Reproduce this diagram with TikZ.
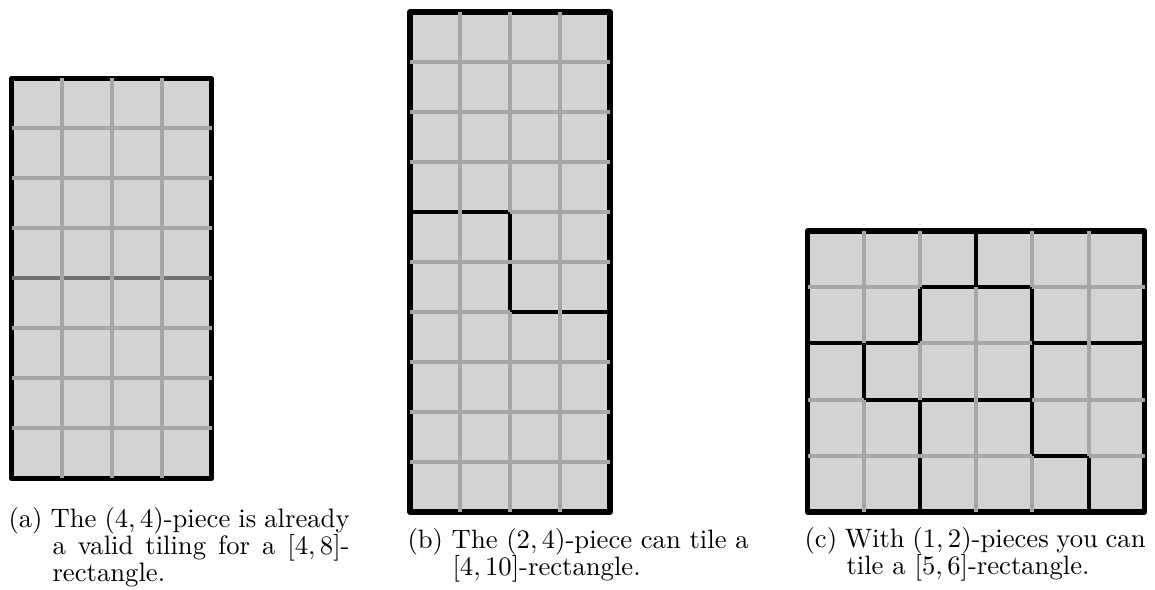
\documentclass[tikz,border=0pt]{standalone}
\definecolor{cellfill}{RGB}{211,211,211}
\definecolor{gridgray}{RGB}{166,166,166}
\definecolor{seamgray}{RGB}{112,112,112}
\tikzset{
  board/.style={fill=cellfill},
  frame/.style={draw=black, line width=1.9pt, line join=round},
  cut/.style={draw=black, line width=1.5pt, line join=miter},
  seam/.style={draw=seamgray, line width=1.5pt},
  gridline/.style={draw=gridgray, line width=1.5pt},
  capline/.style={anchor=base west, inner sep=0pt, font=\normalsize}
}
\begin{document}
\begin{tikzpicture}[x=0.375pt, y=-0.375pt]
\useasboundingbox (0,0) rectangle (1155,590);

% (a) a 4x8 board made of two (4,4)-pieces
\begin{scope}[shift={(11.5,78.5)}, x=18.75pt, y=-18.75pt]
  \fill[board] (0,0) rectangle (4,8);
  \draw[frame] (0,0) rectangle (4,8);
  \draw[seam] (0,4) -- (4,4);
  \foreach \c in {1,2,3} \draw[gridline] (\c,0) -- (\c,8);
  \foreach \r in {1,2,3,5,6,7} \draw[gridline] (0,\r) -- (4,\r);
\end{scope}

% (b) a 4x10 board made of two (2,4)-pieces
\begin{scope}[shift={(410,12)}, x=18.75pt, y=-18.75pt]
  \fill[board] (0,0) rectangle (4,10);
  \draw[frame] (0,0) rectangle (4,10);
  \draw[cut] (0,4) -- (2,4) -- (2,6) -- (4,6);
  \foreach \c in {1,3} \draw[gridline] (\c,0) -- (\c,10);
  \draw[gridline] (2,0) -- (2,4);
  \draw[gridline] (2,6) -- (2,10);
  \foreach \r in {1,2,3,5,7,8,9} \draw[gridline] (0,\r) -- (4,\r);
  \draw[gridline] (2,4) -- (4,4);
  \draw[gridline] (0,6) -- (2,6);
\end{scope}

% (c) a 6x5 board made of (1,2)-pieces
\begin{scope}[shift={(807.5,231)}, x=21.075pt, y=-21.075pt]
  \fill[board] (0,0) rectangle (6,5);
  \draw[frame] (0,0) rectangle (6,5);
  \draw[cut] (3,0) -- (3,1);
  \draw[cut] (0,2) -- (2,2) -- (2,1) -- (4,1) -- (4,4) -- (5,4) -- (5,5);
  \draw[cut] (4,2) -- (6,2);
  \draw[cut] (1,2) -- (1,3) -- (4,3);
  \draw[cut] (2,3) -- (2,5);
  % vertical grid segments
  \draw[gridline] (1,0) -- (1,2);
  \draw[gridline] (1,3) -- (1,5);
  \draw[gridline] (2,0) -- (2,1);
  \draw[gridline] (2,2) -- (2,3);
  \draw[gridline] (3,1) -- (3,5);
  \draw[gridline] (4,0) -- (4,1);
  \draw[gridline] (4,4) -- (4,5);
  \draw[gridline] (5,0) -- (5,4);
  % horizontal grid segments
  \draw[gridline] (0,1) -- (2,1);
  \draw[gridline] (4,1) -- (6,1);
  \draw[gridline] (2,2) -- (4,2);
  \draw[gridline] (0,3) -- (1,3);
  \draw[gridline] (4,3) -- (6,3);
  \draw[gridline] (0,4) -- (4,4);
  \draw[gridline] (5,4) -- (6,4);
\end{scope}

% captions
\node[capline] (capa1) at (8,528) {\makebox[127.9pt][s]{(a) The $(4,4)$-piece is already}};
\node[capline] (capa2) at (52,555) {\makebox[111.4pt][s]{a valid tiling for a $[4,8]$-}};
\node[capline] (capa3) at (52,582) {rectangle.};

\node[capline] (capb1) at (407,549) {\makebox[127.9pt][s]{(b) The $(2,4)$-piece can tile a}};
\node[capline] (capb2) at (452,576) {$[4,10]$-rectangle.};

\node[capline] (capc1) at (804,548) {\makebox[127.9pt][s]{(c) With $(1,2)$-pieces you can}};
\node[capline] (capc2) at (846,575) {tile a $[5,6]$-rectangle.};
\end{tikzpicture}
\end{document}
